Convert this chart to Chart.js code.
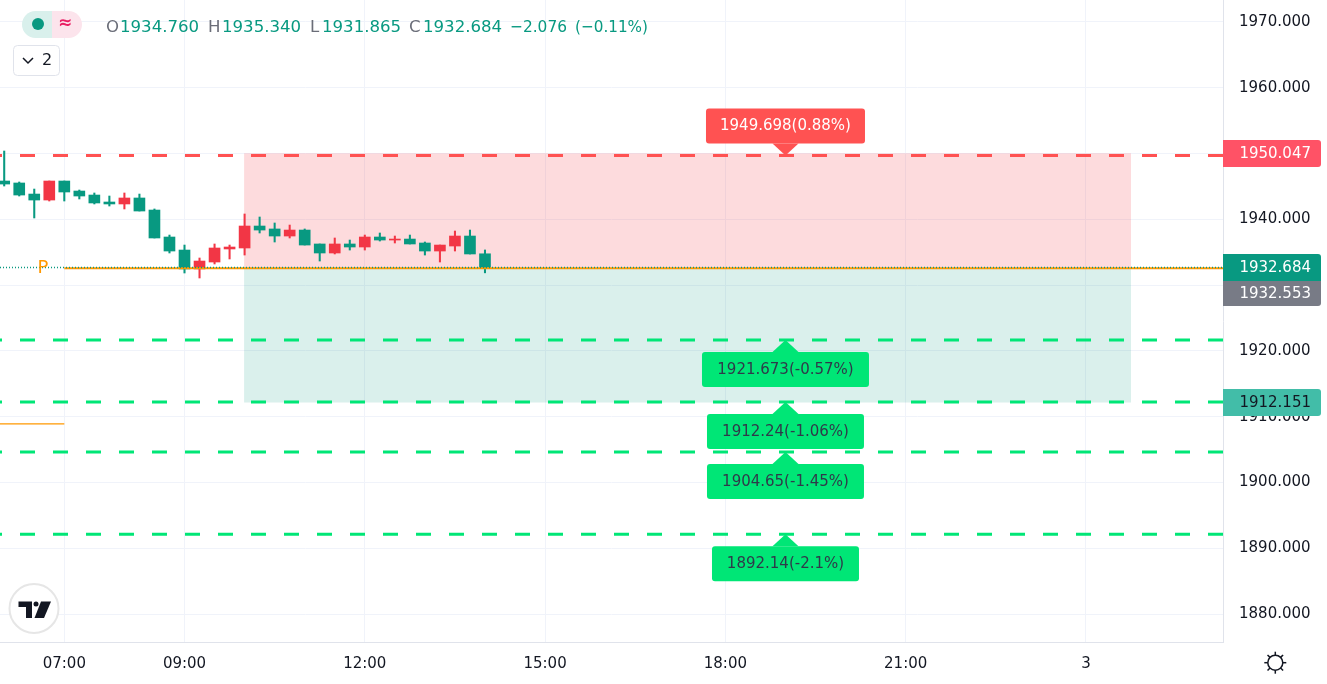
<!DOCTYPE html>
<html><head><meta charset="utf-8">
<style>html,body{margin:0;padding:0;background:#fff}canvas{display:block}</style>
<script src="https://cdn.jsdelivr.net/npm/chart.js@4"></script>
</head><body><canvas id="c" width="1327" height="684" style="width:1327px;height:684px"></canvas>
<script>
const candleTimes = ["06:00","06:15","06:30","06:45","07:00","07:15","07:30","07:45","08:00","08:15","08:30","08:45","09:00","09:15","09:30","09:45","10:00","10:15","10:30","10:45","11:00","11:15","11:30","11:45","12:00","12:15","12:30","12:45","13:00","13:15","13:30","13:45","14:00"];
const opens  = [1945.82,1945.52,1943.84,1942.93,1945.82,1944.30,1943.69,1942.63,1942.33,1943.24,1941.41,1937.31,1935.33,1932.45,1933.51,1935.49,1935.64,1938.98,1938.53,1937.46,1938.37,1936.25,1934.88,1936.25,1935.79,1937.31,1936.85,1937.00,1936.40,1935.18,1935.94,1937.46,1934.760];
const highs  = [1950.38,1945.67,1944.60,1945.82,1945.82,1944.45,1944.00,1943.54,1944.00,1943.84,1941.57,1937.61,1936.09,1934.12,1936.25,1936.09,1940.81,1940.35,1939.44,1939.13,1938.53,1936.25,1937.16,1936.85,1937.61,1937.92,1937.46,1937.61,1936.55,1936.09,1938.22,1938.37,1935.340];
const lows   = [1945.06,1943.54,1940.20,1942.78,1942.78,1943.09,1942.33,1942.02,1941.57,1941.26,1937.16,1934.88,1931.84,1931.08,1933.21,1933.97,1934.57,1937.92,1936.55,1937.16,1936.09,1933.66,1934.73,1935.33,1935.33,1936.70,1936.40,1936.25,1934.57,1933.51,1935.18,1934.73,1931.865];
const closes = [1945.36,1943.69,1942.93,1945.82,1944.15,1943.54,1942.48,1942.33,1943.24,1941.26,1937.16,1935.18,1932.45,1933.66,1935.64,1935.79,1938.98,1938.37,1937.46,1938.37,1936.09,1934.88,1936.25,1935.79,1937.31,1936.85,1937.00,1936.25,1935.18,1936.09,1937.46,1934.73,1932.684];

const tickTimes  = [420,540,720,900,1080,1260,1440];
const tickLabels = ["07:00","09:00","12:00","15:00","18:00","21:00","3"];
const priceTicks = [1880,1890,1900,1910,1920,1930,1940,1950,1960,1970];

const resistancePrice = 1949.698;
const supportPrices = [1921.673,1912.24,1904.65,1892.14];
const calloutPrices = [1949.698,1921.673,1912.24,1904.65,1892.14];
const calloutTexts  = ["1949.698(0.88%)","1921.673(-0.57%)","1912.24(-1.06%)","1904.65(-1.45%)","1892.14(-2.1%)"];
const calloutTime = 1140;

const zoneTop = 1950.047, zoneMid = 1932.684, zoneBottom = 1912.151;
const zoneStart = 599.5, zoneEnd = 1485;
const lastPrice = 1932.684, pivotPrice = 1932.553, pivotOld = 1908.9;
const pivotStart = 420;

const headerOHLC = [["O","1934.760"],["H","1935.340"],["L","1931.865"],["C","1932.684"]];
const headerChange = "\u22122.076";
const headerPercent = "(\u22120.11%)";
const priceBadges = ["1950.047","1932.684","1932.553","1912.151"];

const TEAL="#089981", RED="#f23645", ORANGE="#ff9800", GRID="#f0f3fa", AXIS="#e0e3eb", INK="#131722";
const FONT='"DejaVu Sans"';
const xMin=355.8, xMax=1576.8, yMin=1875.76, yMax=1973.33;
const toMin=s=>{const [h,m]=s.split(":").map(Number);return h*60+m};
const candleX=candleTimes.map(toMin);
const colors=opens.map((o,i)=>closes[i]<o?TEAL:RED);
const hline=(p,a=xMin,b=xMax)=>[{x:a,y:p},{x:b,y:p}];
const dash=(p,c)=>({type:"line",data:hline(p),borderColor:c,borderWidth:3,borderDash:[15,18],borderDashOffset:13,pointRadius:0,order:1,borderCapStyle:"butt"});

function rr(ctx,x,y,w,h,r){ctx.beginPath();ctx.roundRect(x,y,w,h,r);}
const overlay={id:"overlay",afterDraw(chart){
  const ctx=chart.ctx,X=chart.scales.x,Y=chart.scales.y;
  ctx.save();
  ctx.textBaseline="middle";
  ctx.fillStyle=ORANGE;ctx.font="18px "+FONT;ctx.textAlign="center";
  ctx.fillText("P",43,268);
  const widths=[159,167,157,157,147];
  calloutPrices.forEach((p,i)=>{
    const tip=Y.getPixelForValue(p),cx=X.getPixelForValue(calloutTime),w=widths[i];
    const up=i===0;
    const top=up?tip-47:tip+12;
    ctx.fillStyle=up?"#ff5252":"#00e676";
    rr(ctx,cx-w/2,top,w,35,3);ctx.fill();
    ctx.beginPath();
    if(up){ctx.moveTo(cx-13,top+35);ctx.lineTo(cx,tip);ctx.lineTo(cx+13,top+35);}
    else{ctx.moveTo(cx-13,top);ctx.lineTo(cx,tip);ctx.lineTo(cx+13,top);}
    ctx.closePath();ctx.fill();
    ctx.fillStyle=up?"#ffffff":"#2f3a4a";
    ctx.font="15px "+FONT;ctx.textAlign="center";
    ctx.fillText(calloutTexts[i],cx,top+18);
  });
  const bad=[[140,27,"#ff5266","#fff",[0,3,3,0]],[254,27,TEAL,"#fff",[0,3,0,0]],[281,25,"#787b86","#fff",[0,0,3,0]],[389,27,"#42bda8",INK,[0,3,3,0]]];
  bad.forEach((b,i)=>{
    ctx.fillStyle=b[2];rr(ctx,1223,b[0],98,b[1],b[4]);ctx.fill();
    ctx.fillStyle=b[3];ctx.font="15px "+FONT;ctx.textAlign="right";
    ctx.fillText(priceBadges[i],1311,b[0]+b[1]/2+1);
  });
  ctx.fillStyle="#d9f0ec";rr(ctx,22,11,30,27,[13.5,0,0,13.5]);ctx.fill();
  ctx.fillStyle="#fce4ec";rr(ctx,52,11,30,27,[0,13.5,13.5,0]);ctx.fill();
  ctx.fillStyle=TEAL;ctx.beginPath();ctx.arc(38,24,6,0,7);ctx.fill();
  ctx.fillStyle="#e91e63";ctx.font="bold 17px "+FONT;ctx.textAlign="center";ctx.fillText("\u2248",65,24);
  ctx.font="16.6px "+FONT;ctx.textAlign="left";
  const keyX=[106,208,310,409], valX=[120,222,322,423];
  headerOHLC.forEach(([k,v],i)=>{
    ctx.fillStyle="#6a6d78";ctx.fillText(k,keyX[i],28);
    ctx.fillStyle=TEAL;ctx.fillText(v,valX[i],28);
  });
  ctx.fillStyle=TEAL;ctx.fillText(headerChange,510,28,57);
  ctx.fillText(headerPercent,575,28,73);
  ctx.fillStyle="#fff";ctx.strokeStyle=AXIS;ctx.lineWidth=1;
  rr(ctx,13.5,45.5,46,30,4);ctx.fill();ctx.stroke();
  ctx.strokeStyle=INK;ctx.lineWidth=1.5;ctx.beginPath();ctx.moveTo(23,58);ctx.lineTo(28,63);ctx.lineTo(33,58);ctx.stroke();
  ctx.fillStyle=INK;ctx.font="16px "+FONT;ctx.textAlign="center";ctx.fillText("2",47,61);
  ctx.fillStyle="#fff";ctx.strokeStyle="#e6e6e6";ctx.lineWidth=2;ctx.beginPath();ctx.arc(34,608.5,24.5,0,7);ctx.fill();ctx.stroke();
  ctx.fillStyle=INK;
  ctx.beginPath();ctx.moveTo(18.5,601.5);ctx.lineTo(32,601.5);ctx.lineTo(32,618);ctx.lineTo(26,618);ctx.lineTo(26,607);ctx.lineTo(18.5,607);ctx.closePath();ctx.fill();
  ctx.beginPath();ctx.arc(36,604,2.5,0,7);ctx.fill();
  ctx.beginPath();ctx.moveTo(41,601.5);ctx.lineTo(51,601.5);ctx.lineTo(44,618);ctx.lineTo(34.5,618);ctx.closePath();ctx.fill();
  ctx.strokeStyle=INK;ctx.lineWidth=1.5;ctx.beginPath();ctx.arc(1275.3,662.7,7.5,0,7);ctx.stroke();
  for(let a=0;a<8;a++){const t=a*Math.PI/4;ctx.beginPath();ctx.moveTo(1275.3+Math.cos(t)*7.5,662.7+Math.sin(t)*7.5);ctx.lineTo(1275.3+Math.cos(t)*11,662.7+Math.sin(t)*11);ctx.stroke();}
  ctx.restore();
}};

new Chart(document.getElementById("c"),{
  type:"bar",
  plugins:[overlay],
  data:{datasets:[
    {type:"line",data:hline(zoneTop,zoneStart,zoneEnd),fill:{value:zoneMid},backgroundColor:"rgba(242,54,69,0.18)",borderColor:"rgba(0,0,0,0)",borderWidth:0,pointRadius:0,order:9},
    {type:"line",data:hline(zoneBottom,zoneStart,zoneEnd),fill:{value:zoneMid},backgroundColor:"rgba(8,153,129,0.15)",borderColor:"rgba(0,0,0,0)",borderWidth:0,pointRadius:0,order:9},
    {type:"bar",grouped:false,barThickness:1.4,data:candleX.map((t,i)=>({x:t,y:[lows[i],highs[i]]})),backgroundColor:colors,borderWidth:0,borderSkipped:false,order:5},
    {type:"bar",grouped:false,barThickness:11,data:candleX.map((t,i)=>({x:t,y:[opens[i],closes[i]]})),backgroundColor:colors,borderWidth:0,borderSkipped:false,order:4},
    {type:"line",data:hline(pivotPrice,pivotStart,xMax),borderColor:ORANGE,borderWidth:2,pointRadius:0,order:3},
    {type:"line",data:hline(pivotOld,xMin,pivotStart),borderColor:ORANGE,borderWidth:1.2,pointRadius:0,order:3},
    {type:"line",data:hline(lastPrice),borderColor:TEAL,borderWidth:1.4,borderDash:[1,2],pointRadius:0,order:2},
    dash(resistancePrice,"#ff5252"),
    ...supportPrices.map(p=>dash(p,"#00e676"))
  ]},
  options:{
    responsive:false,animation:false,devicePixelRatio:1,
    layout:{padding:0},
    plugins:{legend:{display:false},tooltip:{enabled:false},title:{display:false}},
    scales:{
      x:{type:"linear",min:xMin,max:xMax,offset:false,
        afterFit(s){s.height=42;s.paddingLeft=0;s.paddingRight=0},
        afterBuildTicks(s){s.ticks=tickTimes.map(v=>({value:v}))},
        grid:{color:GRID,lineWidth:1,drawTicks:false,offset:false},
        border:{color:AXIS,width:1},
        ticks:{autoSkip:false,maxRotation:0,padding:13,color:INK,font:{family:FONT,size:15},
          callback:v=>tickLabels[tickTimes.indexOf(v)]}},
      y:{type:"linear",position:"right",min:yMin,max:yMax,
        afterFit(s){s.width=104;s.paddingTop=0;s.paddingBottom=0},
        afterBuildTicks(s){s.ticks=priceTicks.map(v=>({value:v}))},
        grid:{color:GRID,lineWidth:1,drawTicks:false},
        border:{color:AXIS,width:1},
        ticks:{autoSkip:false,padding:16,color:INK,font:{family:FONT,size:15},callback:v=>v.toFixed(3)}}
    }
  }
});
</script></body></html>
